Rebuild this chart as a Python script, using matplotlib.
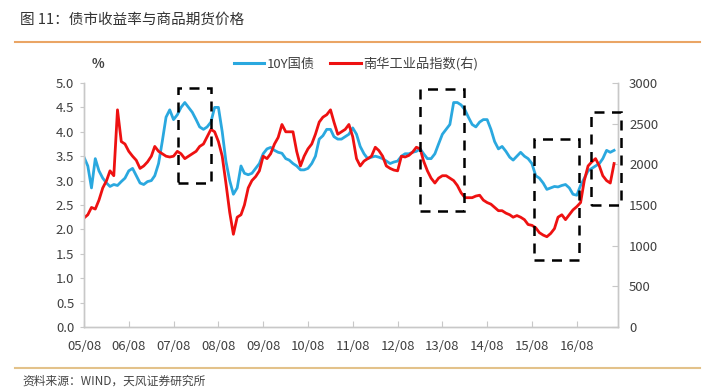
import matplotlib
matplotlib.use('Agg')
import matplotlib.pyplot as plt
import matplotlib.dates as mdates
from matplotlib.patches import Rectangle
from matplotlib.lines import Line2D
import pandas as pd

plt.rcParams['font.family'] = ['Noto Sans CJK SC', 'DejaVu Sans']

# monthly readings, 2005-08 .. 2017-06
yield_10y = [3.48, 3.30, 2.85, 3.45, 3.20, 3.05, 2.95, 2.88, 2.92, 2.90, 2.98, 3.05,
             3.20, 3.25, 3.10, 2.95, 2.92, 2.98, 3.00, 3.10, 3.35, 3.80, 4.30, 4.45,
             4.25, 4.35, 4.50, 4.60, 4.50, 4.40, 4.25, 4.10, 4.05, 4.10, 4.20, 4.50,
             4.50, 4.00, 3.40, 3.00, 2.72, 2.85, 3.30, 3.15, 3.12, 3.15, 3.25, 3.35,
             3.55, 3.65, 3.68, 3.62, 3.58, 3.56, 3.45, 3.42, 3.35, 3.30, 3.22, 3.22,
             3.25, 3.35, 3.50, 3.85, 3.92, 4.05, 4.05, 3.90, 3.85, 3.85, 3.90, 3.95,
             4.08, 3.95, 3.70, 3.55, 3.45, 3.48, 3.50, 3.48, 3.45, 3.40, 3.35, 3.38,
             3.40, 3.50, 3.55, 3.55, 3.58, 3.60, 3.65, 3.55, 3.45, 3.45, 3.55, 3.75,
             3.95, 4.05, 4.15, 4.60, 4.60, 4.55, 4.45, 4.30, 4.15, 4.10, 4.20, 4.25,
             4.25, 4.05, 3.80, 3.65, 3.70, 3.60, 3.48, 3.42, 3.50, 3.58, 3.50, 3.45,
             3.35, 3.10, 3.05, 2.95, 2.82, 2.85, 2.88, 2.87, 2.90, 2.92, 2.85, 2.72,
             2.70, 2.90, 3.05, 3.20, 3.25, 3.30, 3.35, 3.45, 3.62, 3.58, 3.62]

nanhua = [1340, 1380, 1470, 1450, 1560, 1710, 1800, 1920, 1860, 2670, 2280, 2250,
          2160, 2100, 2050, 1950, 1980, 2030, 2100, 2220, 2160, 2130, 2100, 2090,
          2100, 2160, 2130, 2070, 2100, 2130, 2160, 2220, 2250, 2340, 2430, 2400,
          2280, 2100, 1770, 1410, 1140, 1350, 1380, 1500, 1710, 1800, 1850, 1920,
          2100, 2070, 2130, 2250, 2330, 2490, 2400, 2400, 2400, 2160, 1980, 2100,
          2190, 2250, 2370, 2520, 2580, 2610, 2670, 2520, 2370, 2400, 2430, 2490,
          2340, 2070, 1980, 2040, 2070, 2100, 2210, 2170, 2100, 1980, 1950, 1930,
          1920, 2100, 2090, 2110, 2150, 2210, 2190, 2040, 1920, 1830, 1770, 1830,
          1860, 1860, 1830, 1800, 1740, 1650, 1590, 1590, 1590, 1610, 1620, 1560,
          1530, 1510, 1470, 1430, 1430, 1400, 1380, 1350, 1370, 1350, 1320, 1260,
          1250, 1220, 1160, 1130, 1110, 1150, 1210, 1350, 1380, 1320, 1380, 1440,
          1480, 1530, 1800, 1980, 2030, 2070, 1980, 1860, 1800, 1770, 2010]

dates = pd.date_range('2005-08-01', periods=len(yield_10y), freq='MS')

# highlighted periods: (start, end, low, high) on the left axis
boxes = [('2007-09-06', '2008-06-01', 2.95, 4.90),
         ('2013-02-01', '2014-01-25', 2.38, 4.88),
         ('2015-08-15', '2016-08-18', 1.37, 3.85),
         ('2016-11-25', '2017-07-25', 2.50, 4.41)]

blue = '#2aa8df'
red = '#ee1111'
grey = '#404040'

fig = plt.figure(figsize=(7.05, 3.91), dpi=100)
ax = fig.add_axes([84/705, 1-327/391, 534/705, 244/391])
ax2 = ax.twinx()

ax.plot(dates, yield_10y, color=blue, linewidth=2.0)
ax2.plot(dates, nanhua, color=red, linewidth=2.0)

ax.set_ylim(0, 5)
ax.set_yticks([0, 0.5, 1, 1.5, 2, 2.5, 3, 3.5, 4, 4.5, 5])
ax.yaxis.set_major_formatter(matplotlib.ticker.FormatStrFormatter('%.1f'))
ax2.set_ylim(0, 3000)
ax2.set_yticks(range(0, 3001, 500))

ax.set_xlim(pd.Timestamp('2005-08-01'), pd.Timestamp('2017-07-03'))
ax.set_xticks(pd.date_range('2005-08-01', '2016-08-01', freq='12MS'))
ax.xaxis.set_major_formatter(mdates.DateFormatter('%y/%m'))

for a in (ax, ax2):
    for s in a.spines.values():
        s.set_color('#c8c8c8')
        s.set_linewidth(1.0)
    a.spines['top'].set_visible(False)
ax.tick_params(axis='x', direction='in', length=4, color='#c8c8c8', labelsize=9.5,
               labelcolor=grey, pad=9)
ax.tick_params(axis='y', direction='out', length=3, color='#c8c8c8', labelsize=9.5,
               labelcolor=grey, pad=4)
ax2.tick_params(axis='y', direction='in', length=4, color='#c8c8c8', labelsize=9.5,
                labelcolor=grey, pad=8)

for start, end, lo, hi in boxes:
    x0 = mdates.date2num(pd.Timestamp(start))
    x1 = mdates.date2num(pd.Timestamp(end))
    r = Rectangle((x0, lo), x1 - x0, hi - lo, transform=ax.transData, fill=False,
                  edgecolor='black', linewidth=1.8, linestyle=(0, (4, 3)),
                  clip_on=False, zorder=5)
    ax2.add_patch(r)

handles = [Line2D([], [], color=blue, linewidth=2.2),
           Line2D([], [], color=red, linewidth=2.2)]
fig.legend(handles, ['10Y国债', '南华工业品指数(右)'], loc='center',
           bbox_to_anchor=(356/705, 1-64/391), ncol=2, frameon=False,
           handlelength=2.3, handletextpad=0.2, columnspacing=1.2,
           fontsize=9.5, labelcolor=grey)
fig.text(92/705, 1-64/391, '%', fontsize=9.5, color=grey, fontweight='bold',
         ha='left', va='center')

fig.text(20/705, 1-20/391, '图 11：债市收益率与商品期货价格', fontsize=10.5,
         color='#333333', fontweight='medium', ha='left', va='center')
fig.add_artist(Line2D([15/705, 700/705], [1-42/391, 1-42/391], color='#eaa565',
                      linewidth=1.5, transform=fig.transFigure))
fig.add_artist(Line2D([15/705, 700/705], [1-368/391, 1-368/391], color='#e3c28a',
                      linewidth=1.5, transform=fig.transFigure))
fig.text(22/705, 1-381/391, '资料来源：WIND，天风证券研究所', fontsize=8.5,
         color='#444444', ha='left', va='center')

fig.savefig('out.png', dpi=100)
